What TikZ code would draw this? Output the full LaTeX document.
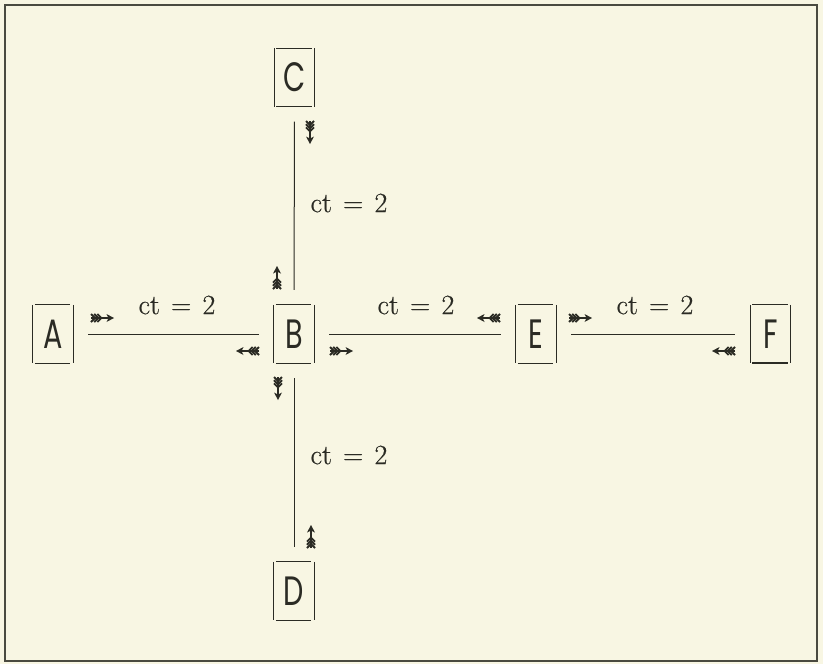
\documentclass[tikz,border=0pt]{standalone}
\usepackage{fontspec}
\usepackage{graphicx}
\newfontfamily\boxfont{Poppins}
\newfontfamily\lblfont[FakeBold=0.6]{Latin Modern Roman}
\definecolor{inkc}{HTML}{2B2B24}
\definecolor{bgc}{HTML}{F8F6E3}
\definecolor{framec}{HTML}{4A4A40}
\tikzset{
  letterbox/.style={minimum width=40pt,minimum height=58pt,inner sep=0pt,text=inkc,
    font=\boxfont\fontsize{41}{41}\selectfont},
  boxline/.style={draw=inkc,line width=1pt},
  conn/.style={draw=inkc,line width=1pt,shorten <=15pt,shorten >=15pt},
  lbl/.style={font=\lblfont\fontsize{28}{28}\selectfont,text=inkc,inner sep=0pt},
  fletch/.pic={
    \draw[line width=1.1pt,inkc] (0,0) -- (18,0);
    \fill[inkc] (23,0) -- (15.5,-4) -- (17.5,0) -- (15.5,4) -- cycle;
    \foreach \u in {0,3.2,6.4}{\draw[line width=1.9pt,inkc] (\u,-4) -- (\u+4,0) -- (\u,4);}
  }
}
\newcommand\lettframe[1]{%
  \draw[boxline] (#1.north west) -- (#1.south west);
  \draw[boxline] (#1.north east) -- (#1.south east);
  \draw[boxline] ([xshift=2pt]#1.north west) -- ([xshift=-3pt]#1.north east);
  \draw[boxline] ([xshift=2pt]#1.south west) -- ([xshift=-3pt]#1.south east);}
\newcommand\ctlabel{ct\hspace{0.4em}=\hspace{0.4em}2}
\begin{document}
\begin{tikzpicture}[x=1pt,y=-1pt]
\useasboundingbox (0,0) rectangle (823,664);
\fill[bgc] (0,0) rectangle (823,664);
\draw[framec,line width=1.8pt] (5,5) rectangle (817,661);
% boxes
\node[letterbox] (C) at (294.5,77.5) {\scalebox{0.7}[1]{C}};
\node[letterbox] (A) at (53,334) {\scalebox{0.7}[1]{A}};
\node[letterbox] (B) at (294,334) {\scalebox{0.7}[1]{B}};
\node[letterbox] (E) at (536,334) {\scalebox{0.7}[1]{E}};
\node[letterbox] (F) at (770.5,334) {\scalebox{0.7}[1]{F}};
\node[letterbox] (D) at (294,591) {\scalebox{0.7}[1]{D}};
\lettframe{C}\lettframe{A}\lettframe{B}\lettframe{E}\lettframe{F}\lettframe{D}
\draw[inkc,line width=1.8pt] ([xshift=2pt]F.south west) -- ([xshift=-3pt]F.south east);
% connectors
\draw[conn] (C) -- (B);
\draw[conn] (B) -- (D);
\draw[conn] (A) -- (B);
\draw[conn] (B) -- (E);
\draw[conn] (E) -- (F);
% labels
\node[lbl] (lCB) at (349,203) {\ctlabel};
\node[lbl] (lBD) at (349,455) {\ctlabel};
\node[lbl] (lAB) at (177,305) {\ctlabel};
\node[lbl] (lBE) at (416,305) {\ctlabel};
\node[lbl] (lEF) at (655,305) {\ctlabel};
% arrow markers
\pic at (91,318) {fletch};
\pic[rotate=180] at (259,351) {fletch};
\pic at (330,351) {fletch};
\pic[rotate=180] at (500,318) {fletch};
\pic at (569,318) {fletch};
\pic[rotate=180] at (735,351) {fletch};
\pic[rotate=-90] at (310,121) {fletch};
\pic[rotate=90] at (277,289) {fletch};
\pic[rotate=-90] at (278,377) {fletch};
\pic[rotate=90] at (311,548) {fletch};
\end{tikzpicture}
\end{document}
